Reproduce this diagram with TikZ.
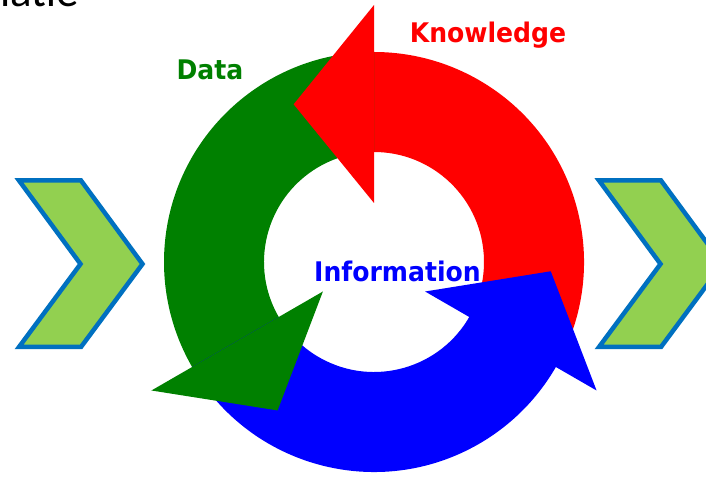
\documentclass[tikz,border=0pt]{standalone}
\usepackage{fontspec}
\newfontfamily\labelfont[FakeStretch=0.93]{DejaVu Sans}
\newfontfamily\titlefont{Carlito}
\definecolor{cycred}{RGB}{255,0,0}
\definecolor{cycgreen}{RGB}{0,128,0}
\definecolor{cycblue}{RGB}{0,0,255}
\definecolor{chevfill}{RGB}{146,208,80}
\definecolor{chevline}{RGB}{0,112,192}

\begin{document}
\begin{tikzpicture}[x=1pt,y=1pt,
    chevron/.style={fill=chevfill,draw=chevline,line width=4.5pt,line join=miter},
    cyclabel/.style={font=\labelfont\bfseries\fontsize{27}{32}\selectfont,inner sep=0pt,anchor=base}]
  \useasboundingbox (0,0) rectangle (706,479);
  \clip (0,0) rectangle (706,479);
  \foreach \dx in {0,580}
    \draw[chevron,xshift=\dx] (19,298.5) -- (81,298.5) -- (142.5,215) -- (81,132) -- (19,132) -- (80.5,215) -- cycle;
  \begin{scope}[shift={(374,217)}]
    \foreach \col/\a in {cycred/-30,cycgreen/90,cycblue/210}
      \fill[\col] (\a:210) arc[start angle=\a,end angle=\a+121,radius=210]
        -- (\a+121:110) arc[start angle=\a+121,end angle=\a,radius=110] -- cycle;
    \foreach \col/\a in {cycred/90,cycgreen/210,cycblue/330}
      \fill[\col] (\a:257) -- (\a+27:177) -- (\a:59) -- cycle;
  \end{scope}
  \node[cyclabel,text=cycred] (knowledge) at (488,436) {Knowledge};
  \node[cyclabel,text=cycgreen] (data) at (210,399) {Data};
  \node[cyclabel,text=cycblue] (information) at (397.5,197) {Information};
  \node[font=\titlefont\fontsize{45}{54}\selectfont,anchor=base east,inner sep=0pt] (title) at (79,472) {Informatie};
\end{tikzpicture}
\end{document}
